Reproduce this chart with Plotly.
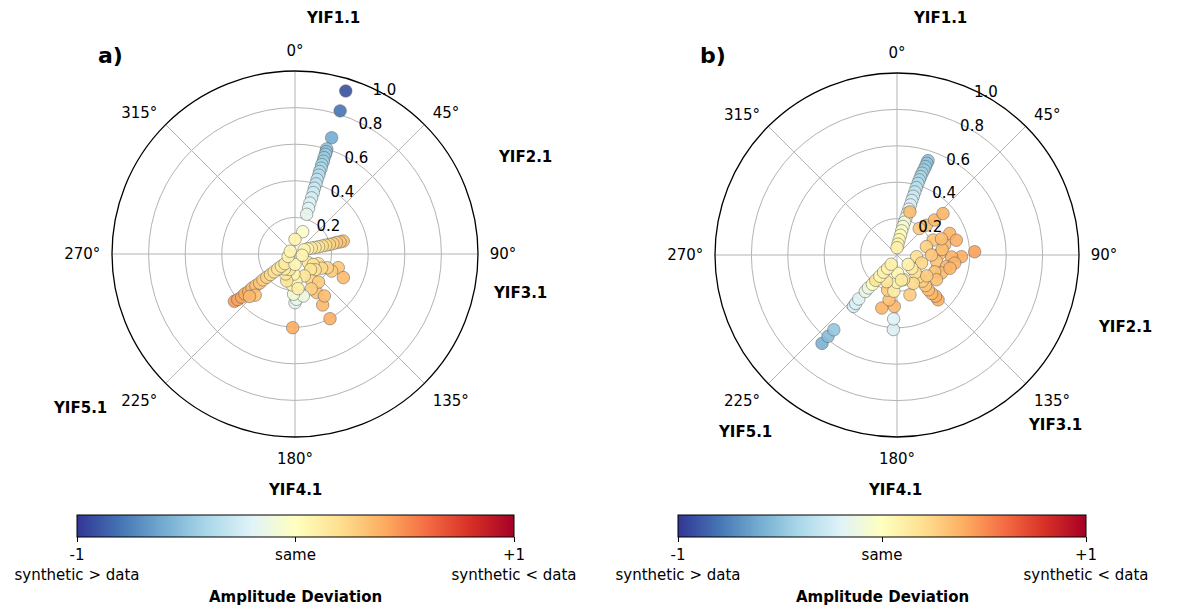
import plotly.graph_objects as go

# ---------------- data ----------------
# panel a) : back-azimuth (deg, clockwise from N), normalised amplitude, deviation
theta_a = [17.3, 17.5, 17.5, 16.8, 16.9, 17.0, 16.8, 17.0, 16.7, 16.9, 16.6, 16.8, 16.5, 16.7,
           16.4, 16.6, 16.5, 16.3, 16.5, 16.4, 19.0, 0.0,
           75.0, 75.0, 74.5, 74.8, 74.5, 74.0, 73.5, 73.0, 72.0, 70.0, 68.0, 65.0,
           107.5, 115.0, 116.0, 113.0, 112.6, 123.0, 118.0, 120.0, 128.0, 135.0,
           151.6, 151.5, 150.7, 148.0, 145.0, 140.0, 155.0, 157.0,
           180.0, 178.0, 168.8, 182.0, 181.8, 185.0, 178.0, 183.0, 175.0,
           197.0, 205.0, 200.0, 215.0,
           232.0, 231.5, 231.0, 231.5, 231.0, 231.5, 231.0, 230.5, 231.0, 230.5, 230.0, 229.5,
           229.0, 228.0, 226.0, 224.0, 227.0,
           180.0, 250.0, 300.0, 100.0]
r_a = [0.933, 0.820, 0.666, 0.600, 0.585, 0.570, 0.550, 0.530, 0.510, 0.490, 0.470, 0.450, 0.425, 0.400,
       0.375, 0.350, 0.320, 0.290, 0.260, 0.226, 0.129, 0.080,
       0.273, 0.255, 0.235, 0.215, 0.195, 0.175, 0.155, 0.135, 0.115, 0.095, 0.075, 0.055,
       0.248, 0.221, 0.294, 0.192, 0.138, 0.087, 0.165, 0.115, 0.140, 0.120,
       0.402, 0.317, 0.242, 0.173, 0.280, 0.200, 0.210, 0.130,
       0.266, 0.248, 0.234, 0.220, 0.403, 0.170, 0.150, 0.110, 0.190,
       0.154, 0.120, 0.090, 0.100,
       0.420, 0.400, 0.375, 0.350, 0.325, 0.300, 0.275, 0.250, 0.225, 0.200, 0.175, 0.150,
       0.125, 0.100, 0.076, 0.313, 0.340,
       0.057, 0.040, 0.030, 0.040]
dev_a = [-0.92, -0.80, -0.60, -0.50, -0.49, -0.47, -0.46, -0.44, -0.42, -0.40, -0.38, -0.36, -0.33, -0.31,
         -0.28, -0.26, -0.24, -0.21, -0.18, -0.16, -0.03, 0.08,
         0.32, 0.30, 0.28, 0.26, 0.24, 0.22, 0.19, 0.16, 0.14, 0.11, 0.08, 0.06,
         0.30, 0.29, 0.35, 0.24, 0.20, 0.14, 0.22, 0.17, 0.19, 0.17,
         0.40, 0.36, 0.33, 0.24, 0.34, 0.28, 0.27, 0.17,
         -0.17, -0.14, -0.12, -0.08, 0.40, 0.06, 0.04, 0.06, 0.10,
         0.17, 0.14, 0.12, 0.12,
         0.46, 0.44, 0.42, 0.40, 0.38, 0.35, 0.33, 0.30, 0.27, 0.25, 0.22, 0.19,
         0.16, 0.14, 0.12, 0.33, 0.36,
         0.06, 0.07, 0.06, 0.07]

# panel b)
theta_b = [18.2, 18.0, 17.8, 17.5, 17.0, 16.8, 16.5, 16.3, 16.0, 15.8, 15.5, 15.2, 15.0, 14.5,
           14.0, 13.5, 13.0, 12.0, 11.0, 10.0, 8.0, 5.0, 0.0,
           16.7, 44.7, 47.0, 48.0, 40.0,
           87.6, 67.7, 76.0, 67.5, 78.0, 91.5, 92.0, 88.0, 74.0, 99.0, 103.0, 98.0, 90.0,
           95.0, 108.0, 112.0, 114.0, 104.0, 83.0, 70.0,
           137.5, 137.0, 138.0, 138.0, 137.0, 136.0, 135.0, 134.0, 132.0, 130.0,
           122.0, 125.0, 162.0, 150.0, 165.0,
           182.8, 183.0, 183.0, 196.0, 190.0, 195.0, 185.0, 180.0, 178.0, 201.0, 170.0,
           220.3, 220.3, 220.2, 220.2, 220.5, 221.0, 221.0, 221.0, 220.0, 220.0, 219.0, 218.0,
           215.0, 212.0]
r_b = [0.546, 0.530, 0.510, 0.490, 0.470, 0.450, 0.430, 0.410, 0.385, 0.360, 0.335, 0.310, 0.285, 0.260,
       0.235, 0.210, 0.185, 0.160, 0.135, 0.110, 0.085, 0.060, 0.040,
       0.247, 0.230, 0.282, 0.340, 0.190,
       0.427, 0.313, 0.336, 0.215, 0.268, 0.354, 0.300, 0.236, 0.168, 0.220, 0.279, 0.320, 0.190,
       0.108, 0.142, 0.264, 0.227, 0.300, 0.250, 0.260,
       0.334, 0.310, 0.285, 0.257, 0.230, 0.200, 0.170, 0.140, 0.110, 0.080,
       0.256, 0.200, 0.230, 0.180, 0.140,
       0.410, 0.352, 0.283, 0.303, 0.250, 0.200, 0.200, 0.150, 0.100, 0.157, 0.140,
       0.637, 0.586, 0.538, 0.370, 0.350, 0.320, 0.266, 0.240, 0.210, 0.182, 0.150, 0.120,
       0.090, 0.060]
dev_b = [-0.50, -0.49, -0.47, -0.45, -0.43, -0.41, -0.39, -0.37, -0.34, -0.31, -0.28, -0.25, -0.22, -0.19,
         -0.16, -0.13, -0.10, -0.06, -0.03, 0.02, 0.06, 0.08, 0.09,
         0.34, 0.34, 0.36, 0.37, 0.30,
         0.44, 0.37, 0.39, 0.31, 0.36, 0.40, 0.38, 0.33, 0.27, 0.31, 0.36, 0.38, 0.30,
         0.20, 0.24, 0.35, 0.32, 0.37, 0.33, 0.34,
         0.40, 0.38, 0.36, 0.33, 0.30, 0.27, 0.22, 0.18, 0.13, 0.09,
         0.33, 0.28, 0.28, 0.22, 0.17,
         -0.22, -0.20, 0.36, 0.37, 0.33, 0.28, 0.11, 0.06, 0.06, 0.17, 0.13,
         -0.58, -0.53, -0.48, -0.24, -0.22, -0.19, -0.14, -0.12, 0.00, 0.17, 0.06, 0.07,
         0.08, 0.09]

angle_ticks = [0, 45, 90, 135, 180, 225, 270, 315]
angle_labels = ["0°", "45°", "90°", "135°", "180°", "225°", "270°", "315°"]
radial_ticks = [0.2, 0.4, 0.6, 0.8, 1.0]
radial_labels = ["0.2", "0.4", "0.6", "0.8", "1.0"]
cbar_ticks = [-1, 0, 1]
cbar_labels = ["-1<br>synthetic > data", "same", "+1<br>synthetic < data"]
cbar_title = "Amplitude Deviation"

# station label positions (pixel centres) for each panel
stations = ["YIF1.1", "YIF2.1", "YIF3.1", "YIF4.1", "YIF5.1"]
station_px_a = [(333, 18), (525, 157), (520, 293), (295, 490), (80, 408)]
station_px_b = [(940, 18), (1125, 327), (1055, 425), (895, 490), (745, 432)]

# ---------------- styling ----------------
W, H = 1190, 607
FONT = "DejaVu Sans"
RADIAL_ANGLE = 67.5  # radial axis drawn 22.5 deg clockwise from north
rdylbu_r = [[0.0, "#313695"], [0.1, "#4575b4"], [0.2, "#74add1"], [0.3, "#abd9e9"],
            [0.4, "#e0f3f8"], [0.5, "#ffffbf"], [0.6, "#fee090"], [0.7, "#fdae61"],
            [0.8, "#f46d43"], [0.9, "#d73027"], [1.0, "#a50026"]]


def px_x(x):
    return x / W


def px_y(y):
    return 1 - y / H


fig = go.Figure()

for name, th, rr, dv, ca in [("a", theta_a, r_a, dev_a, "coloraxis"),
                             ("b", theta_b, r_b, dev_b, "coloraxis2")]:
    fig.add_trace(go.Scatterpolar(
        theta=th, r=rr, mode="markers",
        subplot="polar" if name == "a" else "polar2",
        marker=dict(size=12.5, color=dv, coloraxis=ca, opacity=0.9,
                    line=dict(color="rgba(90,90,90,0.7)", width=0.8)),
        showlegend=False, hoverinfo="skip"))


def polar_layout(cx, cy, rad):
    return dict(
        domain=dict(x=[px_x(cx - rad), px_x(cx + rad)], y=[px_y(cy + rad), px_y(cy - rad)]),
        bgcolor="white",
        angularaxis=dict(rotation=90, direction="clockwise", tickvals=angle_ticks,
                         ticktext=angle_labels, showline=True, linecolor="black", linewidth=1.3,
                         gridcolor="#b3b3b3", gridwidth=1, ticks="outside", ticklen=8,
                         tickcolor="rgba(0,0,0,0)",
                         tickfont=dict(family=FONT, size=15, color="black")),
        radialaxis=dict(range=[0, 1.0], tickvals=radial_ticks, ticktext=radial_labels,
                        angle=RADIAL_ANGLE, tickangle=RADIAL_ANGLE, showline=False, ticks="",
                        gridcolor="#b3b3b3", gridwidth=1,
                        tickfont=dict(family=FONT, size=15, color="black")),
    )


def colorbar(cx, length):
    return dict(orientation="h", x=px_x(cx), xanchor="center", y=px_y(515), yanchor="top",
                lenmode="pixels", len=length, thickness=22, thicknessmode="pixels",
                outlinecolor="black", outlinewidth=1, xpad=0, ypad=0,
                tickvals=cbar_ticks, ticktext=cbar_labels, ticks="outside", ticklen=5,
                tickcolor="black",
                tickfont=dict(family=FONT, size=15, color="black"))


annotations = [
    dict(text="<b>a)</b>", x=px_x(110), y=px_y(55), font=dict(family=FONT, size=22, color="black")),
    dict(text="<b>b)</b>", x=px_x(713), y=px_y(55), font=dict(family=FONT, size=22, color="black")),
    dict(text=f"<b>{cbar_title}</b>", x=px_x(295.5), y=px_y(597),
         font=dict(family=FONT, size=15, color="black")),
    dict(text=f"<b>{cbar_title}</b>", x=px_x(882), y=px_y(597),
         font=dict(family=FONT, size=15, color="black")),
]
for lab, (x, y) in zip(stations, station_px_a):
    annotations.append(dict(text=f"<b>{lab}</b>", x=px_x(x), y=px_y(y),
                            font=dict(family=FONT, size=15, color="black")))
for lab, (x, y) in zip(stations, station_px_b):
    annotations.append(dict(text=f"<b>{lab}</b>", x=px_x(x), y=px_y(y),
                            font=dict(family=FONT, size=15, color="black")))
for a in annotations:
    a.update(xref="paper", yref="paper", showarrow=False, xanchor="center", yanchor="middle")

fig.update_layout(
    width=W, height=H,
    margin=dict(l=0, r=0, t=0, b=0),
    paper_bgcolor="white",
    font=dict(family=FONT, color="black"),
    polar=polar_layout(295, 254, 183),
    polar2=polar_layout(897, 255, 182),
    coloraxis=dict(colorscale=rdylbu_r, cmin=-1, cmax=1, colorbar=colorbar(295.5, 437)),
    coloraxis2=dict(colorscale=rdylbu_r, cmin=-1, cmax=1, colorbar=colorbar(882, 408)),
    annotations=annotations,
)

fig.write_html("out.html")
